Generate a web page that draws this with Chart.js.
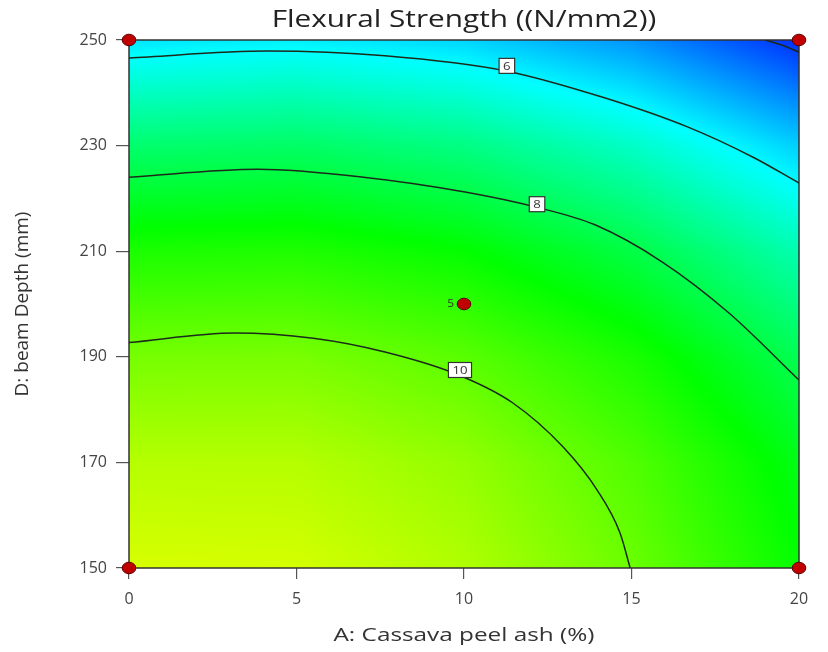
<!DOCTYPE html>
<html>
<head>
<meta charset="utf-8">
<script src="https://cdn.jsdelivr.net/npm/chart.js@4.4.1/dist/chart.umd.min.js"></script>
<style>
  html, body { margin: 0; padding: 0; background: #fff; }
  #wrap { width: 828px; height: 652px; }
</style>
</head>
<body>
<div id="wrap"><canvas id="contourChart" width="828" height="652"></canvas></div>
<script>
// factor grid: A = cassava peel ash (%), D = beam depth (mm)
var gridA = [0, 5, 10, 15, 20];
var gridD = [150, 170, 190, 210, 230, 250];
// flexural strength read at the grid nodes, one row per gridD value
var gridValues = [
  [11.31, 11.28, 10.84, 10.00, 8.76],
  [10.90, 10.89, 10.49, 9.68, 8.47],
  [10.13, 10.16, 9.78, 9.01, 7.82],
  [9.02, 9.07, 8.73, 7.98, 6.83],
  [7.55, 7.64, 7.32, 6.60, 5.48],
  [5.73, 5.85, 5.56, 4.87, 3.78]
];

// contour lines
var contour4A = [18.99, 19.5, 20];
var contour4D = [250, 249.0, 247.7];
var contour6A = [0, 4.15, 7.64, 11.28, 14.12, 16.69, 18.66, 20];
var contour6D = [246.6, 247.9, 247.0, 244.1, 239.2, 233.5, 227.7, 222.9];
var contour8A = [0, 3.85, 7, 10.03, 12.18, 13.91, 15.91, 17.91, 20];
var contour8D = [224.0, 225.5, 224.0, 221.2, 218.3, 215.0, 208.0, 198.3, 185.6];
var contour10A = [0, 3.16, 5.5, 7.64, 9.82, 11.46, 12.96, 13.97, 14.66, 14.96];
var contour10D = [192.7, 194.5, 193.5, 190.9, 186.6, 181.25, 172.9, 164.8, 156.6, 150];

// contour labels
var labelText = ['6', '8', '10'];
var labelA = [11.28, 12.18, 9.88];
var labelD = [245.1, 218.9, 187.5];

// design points
var designA = [0, 0, 20, 20, 10];
var designD = [150, 250, 150, 250, 200];
var centerReps = '5';

var xTicks = [0, 5, 10, 15, 20];
var yTicks = [150, 170, 190, 210, 230, 250];

// colour ramp blue -> cyan -> green -> yellow -> red
var rampValues = [3.3, 6.0, 8.7, 11.8, 14.9];
var rampColors = [[0, 0, 255], [0, 255, 255], [0, 255, 0], [255, 255, 0], [255, 0, 0]];

function pts(xs, ys) {
  return xs.map(function (x, i) { return { x: x, y: ys[i] }; });
}

function findCell(arr, v) {
  for (var i = 0; i < arr.length - 2; i++) {
    if (v <= arr[i + 1]) return i;
  }
  return arr.length - 2;
}

function surface(A, D) {
  var i = findCell(gridA, A), j = findCell(gridD, D);
  var tx = (A - gridA[i]) / (gridA[i + 1] - gridA[i]);
  var ty = (D - gridD[j]) / (gridD[j + 1] - gridD[j]);
  var v00 = gridValues[j][i], v10 = gridValues[j][i + 1];
  var v01 = gridValues[j + 1][i], v11 = gridValues[j + 1][i + 1];
  return v00 * (1 - tx) * (1 - ty) + v10 * tx * (1 - ty) + v01 * (1 - tx) * ty + v11 * tx * ty;
}

function rampColor(v) {
  if (v <= rampValues[0]) return rampColors[0];
  for (var k = 0; k < rampValues.length - 1; k++) {
    if (v <= rampValues[k + 1]) {
      var t = (v - rampValues[k]) / (rampValues[k + 1] - rampValues[k]);
      var a = rampColors[k], b = rampColors[k + 1];
      return [a[0] + (b[0] - a[0]) * t, a[1] + (b[1] - a[1]) * t, a[2] + (b[2] - a[2]) * t];
    }
  }
  return rampColors[rampColors.length - 1];
}

var FONT = "'Open Sans', 'Noto Sans', sans-serif";

// slightly wide red dot, like the design-point markers
function designMarker() {
  var c = document.createElement('canvas');
  c.width = 16; c.height = 14;
  var g = c.getContext('2d');
  g.beginPath();
  g.ellipse(8, 7, 6.8, 5.8, 0, 0, Math.PI * 2);
  g.fillStyle = '#c00000';
  g.fill();
  g.lineWidth = 1;
  g.strokeStyle = '#5a0000';
  g.stroke();
  return c;
}

function stretchedText(ctx, text, x, y, sx) {
  ctx.save();
  ctx.translate(x, y);
  ctx.scale(sx, 1);
  ctx.fillText(text, 0, 0);
  ctx.restore();
}

var surfacePlugin = {
  id: 'surface',
  beforeDatasetsDraw: function (chart) {
    var ctx = chart.ctx, ca = chart.chartArea;
    var xs = chart.scales.x, ys = chart.scales.y;
    var left = Math.round(ca.left), top = Math.round(ca.top);
    var w = Math.round(ca.right) - left, h = Math.round(ca.bottom) - top;
    var img = ctx.createImageData(w, h);
    for (var py = 0; py < h; py++) {
      var D = ys.getValueForPixel(top + py + 0.5);
      for (var px = 0; px < w; px++) {
        var A = xs.getValueForPixel(left + px + 0.5);
        var c = rampColor(surface(A, D));
        var k = (py * w + px) * 4;
        img.data[k] = c[0];
        img.data[k + 1] = c[1];
        img.data[k + 2] = c[2];
        img.data[k + 3] = 255;
      }
    }
    ctx.putImageData(img, left, top);
    ctx.save();
    ctx.strokeStyle = '#333333';
    ctx.lineWidth = 1.5;
    ctx.strokeRect(ca.left, ca.top, ca.right - ca.left, ca.bottom - ca.top);
    ctx.restore();
  },
  afterDatasetsDraw: function (chart) {
    var ctx = chart.ctx, xs = chart.scales.x, ys = chart.scales.y;
    ctx.save();
    ctx.font = '11px ' + FONT;
    ctx.textAlign = 'center';
    ctx.textBaseline = 'middle';
    labelText.forEach(function (t, i) {
      var cx = xs.getPixelForValue(labelA[i]), cy = ys.getPixelForValue(labelD[i]);
      var bw = Math.max(15, ctx.measureText(t).width * 1.2 + 8), bh = 15;
      ctx.fillStyle = '#ffffff';
      ctx.fillRect(cx - bw / 2, cy - bh / 2, bw, bh);
      ctx.strokeStyle = '#333333';
      ctx.lineWidth = 1.2;
      ctx.strokeRect(cx - bw / 2, cy - bh / 2, bw, bh);
      ctx.fillStyle = '#333333';
      stretchedText(ctx, t, cx, cy + 0.5, 1.2);
    });
    // replicate count beside the centre point
    var px = xs.getPixelForValue(designA[4]), py = ys.getPixelForValue(designD[4]);
    ctx.textAlign = 'right';
    ctx.font = '10px ' + FONT;
    stretchedText(ctx, centerReps, px - 10, py, 1.2);
    ctx.restore();
  },
  afterDraw: function (chart) {
    var ctx = chart.ctx, ca = chart.chartArea;
    var mid = (ca.left + ca.right) / 2;
    ctx.save();
    ctx.textAlign = 'center';
    ctx.textBaseline = 'middle';
    ctx.font = '24px ' + FONT;
    ctx.fillStyle = '#222222';
    stretchedText(ctx, 'Flexural Strength ((N/mm2))', mid, 20, 1.24);
    ctx.font = '19px ' + FONT;
    ctx.fillStyle = '#333333';
    stretchedText(ctx, 'A: Cassava peel ash (%)', mid, 636, 1.28);
    ctx.restore();
  }
};

function contourSet(xs, ys) {
  return {
    type: 'scatter',
    data: pts(xs, ys),
    showLine: true,
    borderColor: '#1c2a1c',
    borderWidth: 1.5,
    pointRadius: 0,
    cubicInterpolationMode: 'monotone',
    fill: false
  };
}

var chart = new Chart(document.getElementById('contourChart'), {
  type: 'scatter',
  data: {
    datasets: [
      {
        data: pts(designA, designD),
        pointStyle: designMarker(),
        pointRadius: 7,
        pointHoverRadius: 7,
        clip: false
      },
      contourSet(contour4A, contour4D),
      contourSet(contour6A, contour6D),
      contourSet(contour8A, contour8D),
      contourSet(contour10A, contour10D)
    ]
  },
  options: {
    responsive: false,
    animation: false,
    devicePixelRatio: 1,
    layout: { padding: { top: 40, right: 29, left: 0, bottom: 0 } },
    plugins: { legend: { display: false }, tooltip: { enabled: false }, title: { display: false } },
    scales: {
      x: {
        type: 'linear',
        min: 0,
        max: 20,
        afterBuildTicks: function (s) { s.ticks = xTicks.map(function (v) { return { value: v }; }); },
        afterFit: function (s) { s.height = 84; },
        grid: { drawOnChartArea: false, drawTicks: true, tickLength: 11, color: '#555555', lineWidth: 1.2 },
        border: { display: false },
        ticks: { color: '#444444', font: { family: FONT, size: 16 }, padding: 11 },
        title: { display: false }
      },
      y: {
        type: 'linear',
        min: 150,
        max: 250,
        afterBuildTicks: function (s) { s.ticks = yTicks.map(function (v) { return { value: v }; }); },
        afterFit: function (s) { s.width = 129; },
        grid: { drawOnChartArea: false, drawTicks: true, tickLength: 13, color: '#555555', lineWidth: 1.2 },
        border: { display: false },
        ticks: { color: '#444444', font: { family: FONT, size: 16 }, padding: 9 },
        title: { display: true, text: 'D: beam Depth (mm)', color: '#333333', font: { family: FONT, size: 19 }, padding: { top: 11 } }
      }
    }
  },
  plugins: [surfacePlugin]
});
</script>
</body>
</html>
